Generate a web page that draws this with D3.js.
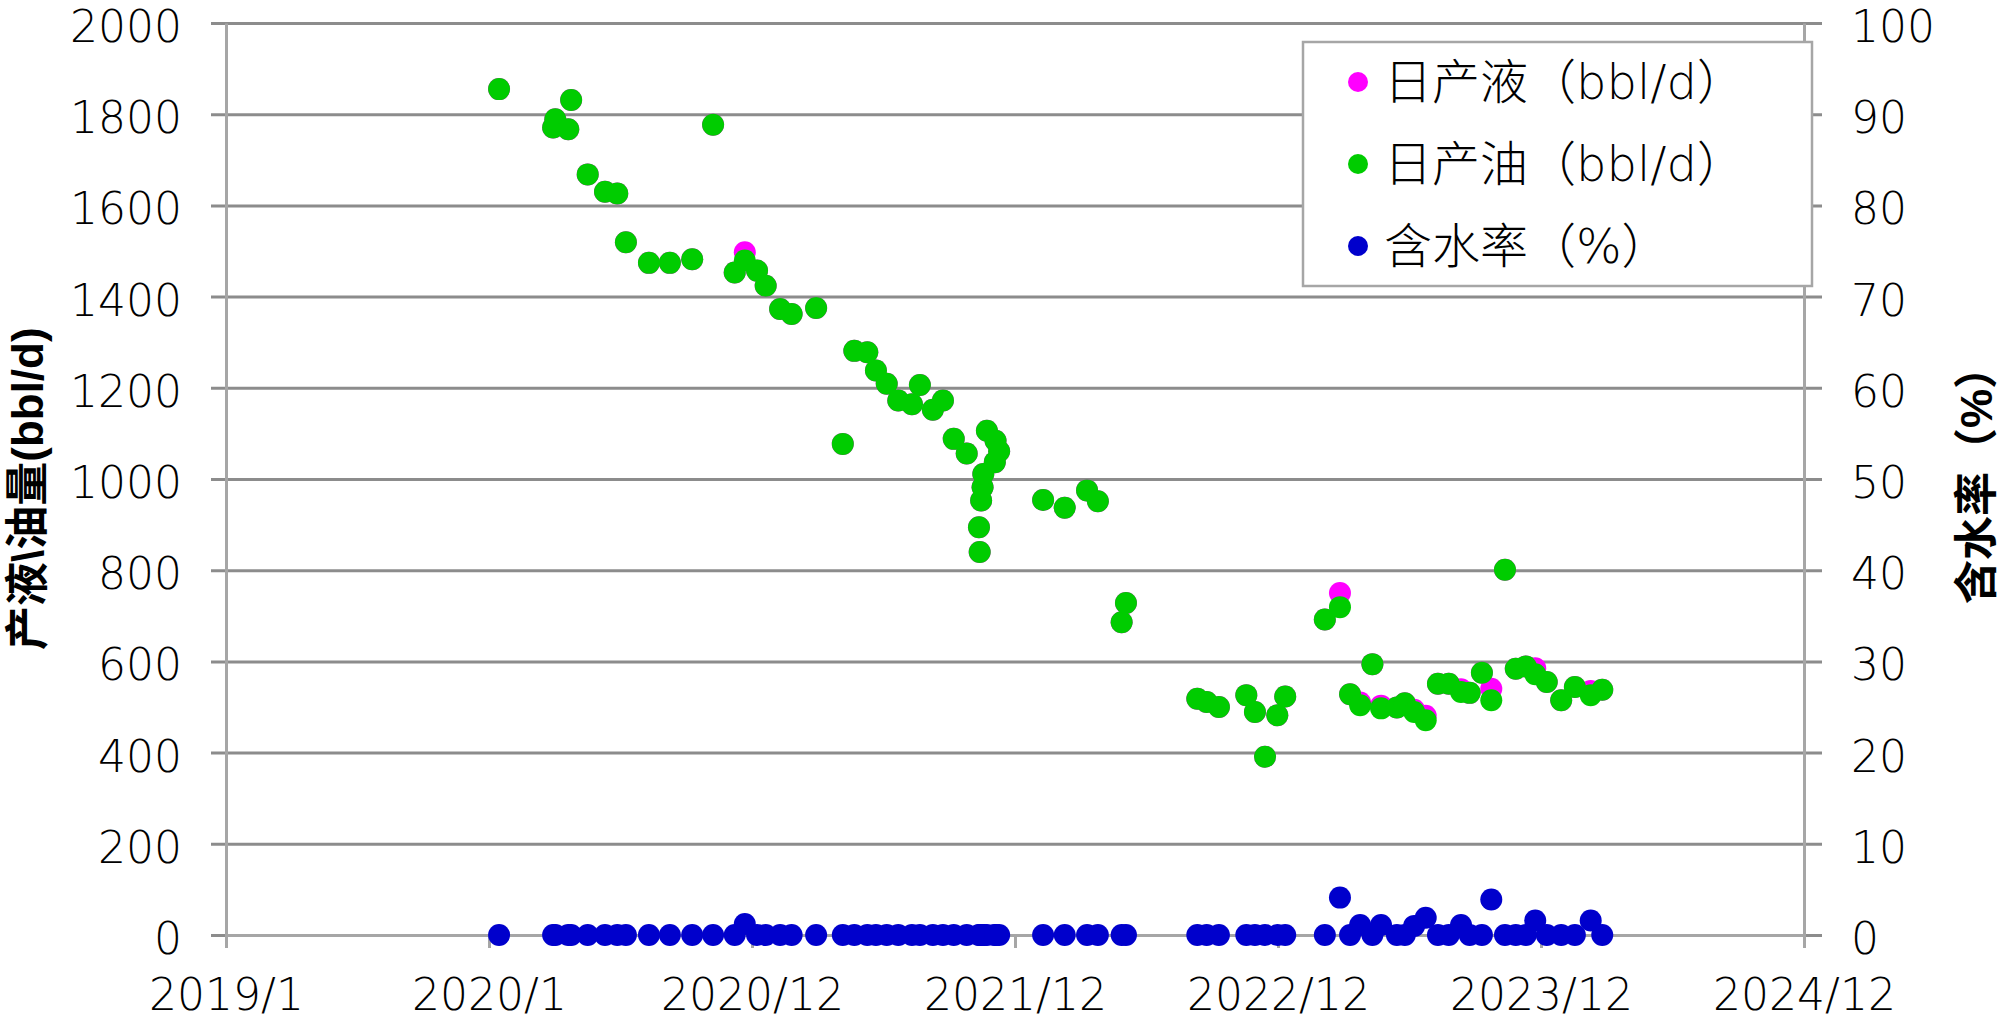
<!DOCTYPE html>
<html lang="zh">

<head>
  <meta charset="UTF-8">
  <title>日产液 / 日产油 / 含水率</title>
  <script src="https://d3js.org/d3.v7.min.js"></script>
  <style>
    body { margin: 0; background: #fff; }
    .tick text { font-family: "DejaVu Sans", "Noto Sans CJK SC", sans-serif; font-weight: 200; font-size: 44px; fill: #000; }
    .axis .domain, .axis .tick line { stroke: #a6a6a6; stroke-width: 3; }
    .grid line { stroke: #8c8c8c; stroke-width: 3; }
    .grid .domain { display: none; }
    .title { font-family: "Liberation Sans", "Noto Sans CJK SC", sans-serif; font-weight: bold; font-size: 44px; }
    .legend text { font-family: "DejaVu Sans", "Noto Sans CJK SC", sans-serif; font-weight: 200; font-size: 48px; }
  </style>
</head>

<body>
  <div id="chart"></div>

  <script>
    const dates = [
      "2020-01-15", "2020-03-30", "2020-04-02", "2020-04-20", "2020-04-24", "2020-05-17", "2020-06-10", "2020-06-27",
      "2020-07-09", "2020-08-10", "2020-09-08", "2020-10-09", "2020-11-07", "2020-12-07", "2020-12-21", "2021-01-07",
      "2021-01-19", "2021-02-08", "2021-02-24", "2021-03-30", "2021-05-06", "2021-05-22", "2021-06-09", "2021-06-21",
      "2021-07-06", "2021-07-22", "2021-08-10", "2021-08-21", "2021-09-08", "2021-09-22", "2021-10-07", "2021-10-25",
      "2021-11-11", "2021-11-12", "2021-11-14", "2021-11-16", "2021-11-17", "2021-11-22", "2021-12-03", "2021-12-04",
      "2021-12-09", "2022-02-08", "2022-03-10", "2022-04-10", "2022-04-25", "2022-05-28", "2022-06-03", "2022-09-10",
      "2022-09-23", "2022-10-10", "2022-11-17", "2022-11-29", "2022-12-13", "2022-12-30", "2023-01-10", "2023-03-06",
      "2023-03-27", "2023-04-10", "2023-04-24", "2023-05-11", "2023-05-23", "2023-06-14", "2023-06-25", "2023-07-08",
      "2023-07-24", "2023-08-10", "2023-08-25", "2023-09-11", "2023-09-23", "2023-10-10", "2023-10-23", "2023-11-11",
      "2023-11-26", "2023-12-10", "2023-12-23", "2024-01-08", "2024-01-28", "2024-02-16", "2024-03-09", "2024-03-25"
    ];

    // 日产液 (bbl/d)
    const liquid = [
      1855, 1771, 1789, 1767, 1831, 1668, 1630, 1626, 1519, 1474, 1474, 1482, 1777, 1453, 1497, 1457,
      1424, 1373, 1362, 1375, 1077, 1281, 1278, 1238, 1209, 1172, 1164, 1206, 1152, 1172, 1088, 1056,
      894, 840, 953, 982, 1011, 1106, 1037, 1084, 1061, 954, 937, 975, 951, 686, 728, 518,
      511, 500, 526, 489, 391, 482, 523, 692, 750, 528, 510, 594, 503, 499, 508, 494,
      481, 551, 551, 539, 531, 575, 540, 801, 584, 589, 585, 555, 515, 544, 535, 538
    ];

    // 日产油 (bbl/d)
    const oil = [
      1855, 1771, 1789, 1767, 1831, 1668, 1630, 1626, 1519, 1474, 1474, 1482, 1777, 1453, 1479, 1457,
      1424, 1373, 1362, 1375, 1077, 1281, 1278, 1238, 1209, 1172, 1164, 1206, 1152, 1172, 1088, 1056,
      894, 840, 953, 982, 1011, 1106, 1037, 1084, 1061, 954, 937, 975, 951, 686, 728, 518,
      511, 500, 526, 489, 391, 482, 523, 692, 719, 528, 504, 594, 497, 499, 508, 489,
      471, 551, 551, 533, 531, 575, 515, 801, 584, 589, 572, 555, 515, 544, 526, 538
    ];

    // 含水率 (%)
    const waterCut = [
      0, 0, 0, 0, 0, 0, 0, 0, 0, 0, 0, 0, 0, 0, 1.2, 0,
      0, 0, 0, 0, 0, 0, 0, 0, 0, 0, 0, 0, 0, 0, 0, 0,
      0, 0, 0, 0, 0, 0, 0, 0, 0, 0, 0, 0, 0, 0, 0, 0,
      0, 0, 0, 0, 0, 0, 0, 0, 4.1, 0, 1.1, 0, 1.1, 0, 0, 1.0,
      1.9, 0, 0, 1.1, 0, 0, 3.9, 0, 0, 0, 1.6, 0, 0, 0, 1.6, 0
    ];

    const xTicks = ["2019-01-01", "2020-01-01", "2020-12-31", "2021-12-31", "2022-12-31", "2023-12-31", "2024-12-30"];
    const yTicks = [0, 200, 400, 600, 800, 1000, 1200, 1400, 1600, 1800, 2000];
    const y2Ticks = [0, 10, 20, 30, 40, 50, 60, 70, 80, 90, 100];

    const seriesNames = ["日产液（bbl/d）", "日产油（bbl/d）", "含水率（%）"];
    const seriesColors = ["#ff00ff", "#00cc00", "#0000cc"];

    const parse = d3.utcParse("%Y-%m-%d");
    const fmt = d3.utcFormat("%Y/%-m");

    const W = 2000, H = 1024;
    const plotL = 226, plotR = 1804, plotT = 23, plotB = 935;

    const svg = d3.select("#chart").append("svg")
      .attr("width", W)
      .attr("height", H)
      .style("background", "#fff");

    const x = d3.scaleUtc()
      .domain([parse(xTicks[0]), parse(xTicks[xTicks.length - 1])])
      .range([plotL, plotR]);

    const y = d3.scaleLinear().domain([0, 2000]).range([plotB, plotT]);
    const y2 = d3.scaleLinear().domain([0, 100]).range([plotB, plotT]);

    // horizontal gridlines, sticking out past both axes like tick marks
    svg.append("g")
      .attr("class", "grid")
      .attr("transform", `translate(${plotR + 18},0)`)
      .call(d3.axisLeft(y).tickValues(yTicks).tickSize(plotR + 18 - (plotL - 15)).tickFormat(""));

    svg.append("g")
      .attr("class", "axis")
      .attr("transform", `translate(0,${plotB})`)
      .call(d3.axisBottom(x).tickValues(xTicks.map(parse)).tickFormat(fmt)
        .tickSize(13).tickSizeOuter(0).tickPadding(31));

    svg.append("g")
      .attr("class", "axis")
      .attr("transform", `translate(${plotL},0)`)
      .call(d3.axisLeft(y).tickValues(yTicks).tickFormat(d3.format("d"))
        .tickSize(0).tickSizeOuter(0).tickPadding(44))
      .selectAll("text").attr("dy", "0.42em");

    svg.append("g")
      .attr("class", "axis")
      .attr("transform", `translate(${plotR},0)`)
      .call(d3.axisRight(y2).tickValues(y2Ticks).tickFormat(d3.format("d"))
        .tickSize(0).tickSizeOuter(0).tickPadding(47))
      .selectAll("text").attr("dy", "0.42em");

    const rows = dates.map((d, i) => ({ date: parse(d), liquid: liquid[i], oil: oil[i], wc: waterCut[i] }));

    svg.append("g").selectAll("circle")
      .data(rows)
      .enter().append("circle")
      .attr("cx", d => x(d.date))
      .attr("cy", d => y(d.liquid))
      .attr("r", 11)
      .attr("fill", seriesColors[0]);

    svg.append("g").selectAll("circle")
      .data(rows)
      .enter().append("circle")
      .attr("cx", d => x(d.date))
      .attr("cy", d => y(d.oil))
      .attr("r", 11)
      .attr("fill", seriesColors[1]);

    svg.append("g").selectAll("circle")
      .data(rows)
      .enter().append("circle")
      .attr("cx", d => x(d.date))
      .attr("cy", d => y2(d.wc))
      .attr("r", 11)
      .attr("fill", seriesColors[2]);

    // axis titles
    svg.append("text")
      .attr("class", "title")
      .attr("transform", "translate(27,650) rotate(-90)")
      .attr("dominant-baseline", "central")
      .text("产液\\油量(bbl/d)");

    svg.append("text")
      .attr("class", "title")
      .attr("transform", "translate(1976,604) rotate(-90)")
      .attr("dominant-baseline", "central")
      .text("含水率（%）");

    // legend
    const legend = svg.append("g").attr("class", "legend");

    legend.append("rect")
      .attr("x", 1303)
      .attr("y", 42)
      .attr("width", 509)
      .attr("height", 244)
      .attr("fill", "#fff")
      .attr("stroke", "#a6a6a6")
      .attr("stroke-width", 2.5);

    const item = legend.selectAll(".item")
      .data(seriesNames)
      .enter().append("g")
      .attr("class", "item")
      .attr("transform", (d, i) => `translate(1358,${82 + i * 82})`);

    item.append("circle")
      .attr("r", 10)
      .attr("fill", (d, i) => seriesColors[i]);

    item.append("text")
      .attr("x", 26)
      .attr("y", 17)
      .text(d => d);
  </script>
</body>

</html>
